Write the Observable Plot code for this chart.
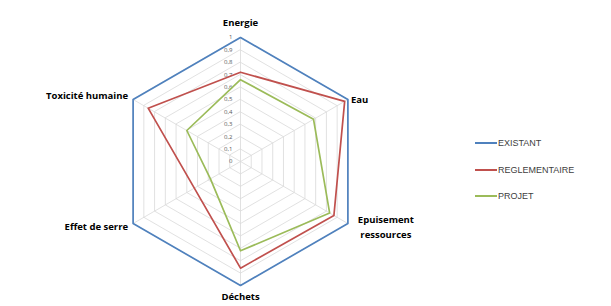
<!DOCTYPE html>
<html>
<head>
<meta charset="utf-8">
<script src="https://cdn.jsdelivr.net/npm/d3@7"></script>
<script src="https://cdn.jsdelivr.net/npm/@observablehq/plot@0.6"></script>
<style>
  html, body { margin: 0; padding: 0; background: #fff; }
  #wrap { position: relative; width: 611px; height: 306px; overflow: hidden; }
  #legend { position: absolute; left: 475px; top: 130px; font-family: "Liberation Sans", Arial, sans-serif; font-size: 9px; color: #404040; }
  #legend .row { display: flex; align-items: center; height: 26.5px; }
  #legend .sw { width: 22px; height: 2px; margin-right: 1px; }
</style>
</head>
<body>
<div id="wrap"><div id="legend"></div></div>
<script>
// ---- data ----
const axesLabels = ["Energie", "Eau", "Epuisement\nressources", "Déchets", "Effet de serre", "Toxicité humaine"];
const seriesNames = ["EXISTANT", "REGLEMENTAIRE", "PROJET"];
const existant = [1, 1, 1, 1, 1, 1];
const reglementaire = [0.72, 0.97, 0.87, 0.86, 0.43, 0.86];
const projet = [0.66, 0.68, 0.83, 0.72, 0.28, 0.50];
const tickValues = [0, 0.1, 0.2, 0.3, 0.4, 0.5, 0.6, 0.7, 0.8, 0.9, 1];
const tickLabels = ["0", "0,1", "0,2", "0,3", "0,4", "0,5", "0,6", "0,7", "0,8", "0,9", "1"];
const colors = ["#4F81BD", "#C0504D", "#9BBB59"];

// ---- geometry helpers ----
const n = axesLabels.length;
const ang = i => (i * 2 * Math.PI) / n;
const px = (i, v) => Math.sin(ang(i)) * v;
const py = (i, v) => Math.cos(ang(i)) * v;

const seriesValues = [existant, reglementaire, projet];
const pts = [];
seriesNames.forEach((s, k) => {
  seriesValues[k].forEach((v, i) => pts.push({series: s, i, x: px(i, v), y: py(i, v)}));
});

const grid = [];
tickValues.filter(t => t > 0).forEach(t => {
  for (let i = 0; i < n; i++) grid.push({t, x: px(i, t), y: py(i, t)});
});
const spokes = axesLabels.map((l, i) => ({x1: 0, y1: 0, x2: px(i, 1), y2: py(i, 1)}));
const labels = axesLabels.map((l, i) => ({label: l, i, x: px(i, 1), y: py(i, 1)}));
const ticks = tickValues.map((t, k) => ({t, label: tickLabels[k]}));

const R = 124, cx = 240, cy = 161, W = 611, H = 306;
const font = "'Open Sans', 'Liberation Sans', sans-serif";
const lf = 9.5;

const chart = Plot.plot({
  width: W, height: H,
  margin: 0,
  x: {domain: [-cx / R, (W - cx) / R], axis: null},
  y: {domain: [-(H - cy) / R, cy / R], axis: null},
  color: {domain: seriesNames, range: colors},
  style: {fontFamily: font, background: "#fff"},
  marks: [
    Plot.link(spokes, {x1: "x1", y1: "y1", x2: "x2", y2: "y2", stroke: "#d9d9d9", strokeWidth: 0.8}),
    Plot.line(grid, {x: "x", y: "y", z: "t", curve: "linear-closed", stroke: "#d9d9d9", strokeWidth: 0.8}),
    Plot.text(ticks, {x: 0, y: "t", text: "label", textAnchor: "end", dx: -8, fontSize: 6, fill: "#595959"}),
    Plot.line(pts, {x: "x", y: "y", z: "series", stroke: "series", curve: "linear-closed", strokeWidth: 1.7}),
    Plot.text(labels.filter(d => d.i === 0), {x: "x", y: "y", text: "label", dy: -15, fontSize: lf, fontWeight: "bold", fill: "#000"}),
    Plot.text(labels.filter(d => d.i === 3), {x: "x", y: "y", text: "label", dy: 11, fontSize: lf, fontWeight: "bold", fill: "#000"}),
    Plot.text(labels.filter(d => d.i === 1), {x: "x", y: "y", text: "label", textAnchor: "start", dx: 3, fontSize: lf, fontWeight: "bold", fill: "#000"}),
    Plot.text(labels.filter(d => d.i === 2), {x: "x", y: "y", text: "label", dx: 38, dy: 2, lineHeight: 1.65, fontSize: lf, fontWeight: "bold", fill: "#000"}),
    Plot.text(labels.filter(d => d.i === 4), {x: "x", y: "y", text: "label", textAnchor: "end", dx: -5, dy: 3, fontSize: lf, fontWeight: "bold", fill: "#000"}),
    Plot.text(labels.filter(d => d.i === 5), {x: "x", y: "y", text: "label", textAnchor: "end", dx: -5, dy: -4, fontSize: lf, fontWeight: "bold", fill: "#000"})
  ]
});
document.getElementById("wrap").prepend(chart);

const legend = document.getElementById("legend");
seriesNames.forEach((s, k) => {
  const row = document.createElement("div");
  row.className = "row";
  const sw = document.createElement("div");
  sw.className = "sw";
  sw.style.background = colors[k];
  const tx = document.createElement("span");
  tx.textContent = s;
  row.append(sw, tx);
  legend.append(row);
});
</script>
</body>
</html>
